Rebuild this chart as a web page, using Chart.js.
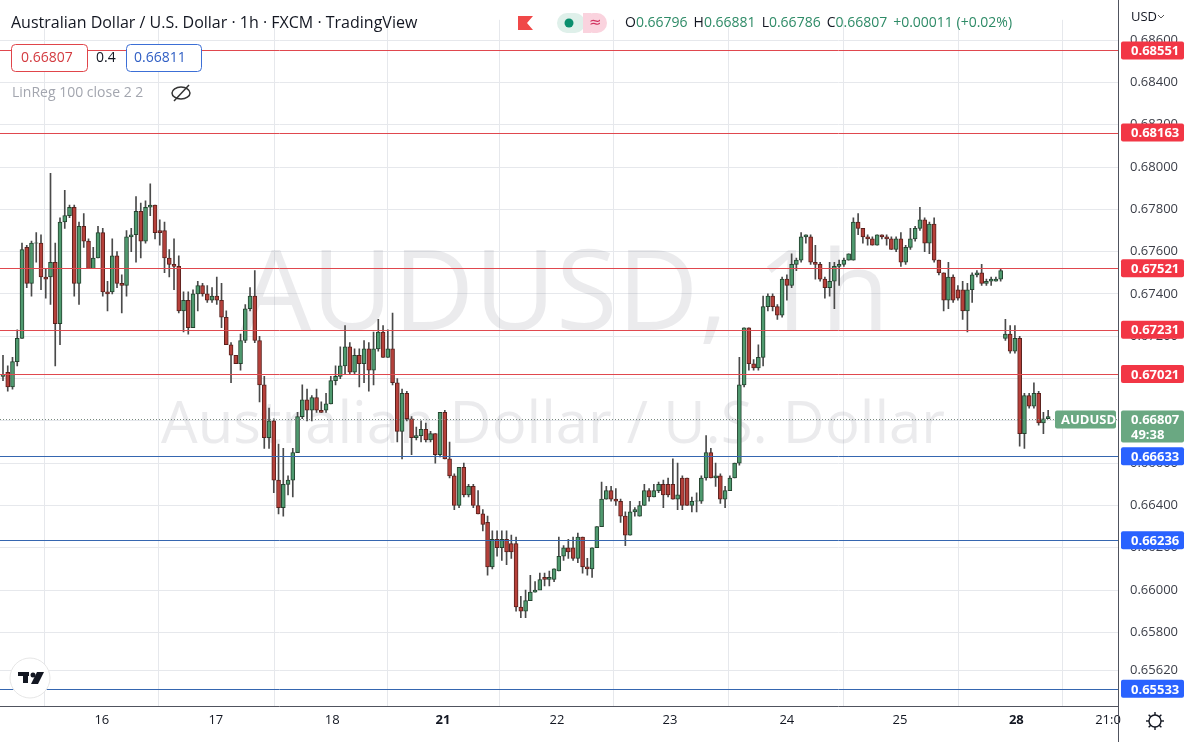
<!DOCTYPE html>
<html><head><meta charset="utf-8">
<script src="https://cdn.jsdelivr.net/npm/chart.js@4.4.0/dist/chart.umd.min.js"></script>
<style>html,body{margin:0;padding:0;background:#fff;overflow:hidden}canvas{display:block}</style>
</head><body><canvas id="c" width="1188" height="742"></canvas>
<script>
// Hourly candles (pips x 1e-4)
const opens=[6701,6703,6696,6708,6719,6762,6745,6764,6764,6748,6748,6755,6726,6774,6777,6781,6745,6772,6765,6752,6757,6769,6741,6741,6758,6745,6744,6767,6768,6779,6765,6781,6782,6770,6770,6757,6754,6753,6732,6737,6724,6740,6744,6740,6737,6739,6737,6729,6716,6711,6707,6718,6733,6739,6718,6697,6672,6680,6652,6639,6650,6652,6665,6682,6690,6685,6691,6685,6685,6688,6699,6701,6706,6715,6703,6711,6707,6714,6704,6714,6722,6710,6714,6698,6675,6693,6681,6672,6673,6676,6671,6674,6664,6684,6662,6654,6640,6658,6645,6649,6640,6636,6632,6611,6624,6620,6624,6622,6622,6592,6590,6595,6599,6600,6606,6605,6605,6609,6616,6620,6620,6615,6625,6611,6610,6620,6630,6643,6647,6643,6642,6635,6626,6637,6635,6640,6647,6644,6647,6650,6650,6650,6643,6653,6653,6640,6642,6642,6653,6665,6653,6654,6643,6647,6653,6660,6697,6724,6707,6705,6710,6734,6739,6734,6730,6747,6744,6754,6756,6767,6767,6755,6754,6747,6743,6746,6753,6754,6756,6756,6774,6771,6767,6766,6763,6768,6767,6766,6761,6766,6755,6762,6766,6771,6775,6764,6773,6756,6750,6737,6748,6742,6742,6732,6742,6749,6750,6745,6746,6746,6747,6719,6721,6713,6719,6674,6692,6687,6693,6679,6681];
const highs=[6711,6706,6710,6723,6764,6763,6765,6769,6768,6752,6797,6764,6776,6789,6782,6782,6774,6778,6766,6762,6772,6771,6746,6766,6760,6749,6770,6771,6786,6783,6784,6792,6782,6775,6774,6761,6766,6758,6741,6741,6742,6746,6745,6744,6743,6748,6745,6732,6717,6711,6721,6735,6743,6751,6720,6701,6686,6681,6669,6667,6654,6667,6684,6697,6695,6692,6695,6689,6693,6701,6706,6715,6725,6717,6714,6714,6718,6717,6722,6728,6725,6723,6731,6700,6695,6694,6682,6677,6680,6679,6675,6674,6684,6685,6670,6655,6658,6660,6650,6650,6647,6638,6635,6628,6628,6628,6628,6626,6625,6597,6600,6607,6604,6608,6608,6609,6610,6625,6621,6624,6625,6627,6625,6615,6620,6630,6651,6649,6649,6648,6643,6637,6642,6639,6642,6650,6648,6650,6651,6652,6653,6662,6660,6654,6653,6644,6646,6654,6673,6667,6660,6655,6649,6654,6660,6710,6724,6724,6709,6716,6739,6740,6740,6735,6748,6749,6759,6757,6769,6768,6768,6763,6755,6748,6755,6755,6756,6757,6759,6776,6778,6771,6768,6767,6768,6768,6768,6767,6767,6769,6763,6771,6772,6781,6776,6774,6776,6756,6750,6755,6749,6744,6746,6745,6750,6751,6754,6747,6748,6748,6752,6728,6725,6725,6720,6693,6693,6698,6694,6684,6685];
const lows=[6699,6694,6695,6706,6719,6743,6739,6755,6742,6738,6735,6706,6716,6771,6776,6739,6735,6762,6752,6752,6757,6739,6732,6740,6743,6731,6739,6760,6755,6757,6764,6777,6766,6763,6750,6748,6742,6731,6722,6721,6724,6732,6739,6736,6736,6735,6724,6716,6698,6707,6704,6717,6732,6717,6689,6667,6667,6646,6636,6635,6645,6644,6665,6681,6680,6680,6684,6684,6684,6688,6697,6700,6702,6702,6702,6696,6698,6694,6697,6713,6710,6710,6697,6670,6662,6680,6664,6671,6670,6670,6670,6660,6663,6662,6653,6638,6639,6644,6644,6639,6636,6628,6607,6610,6616,6614,6612,6615,6590,6587,6587,6595,6599,6601,6602,6602,6604,6609,6614,6615,6614,6613,6608,6607,6606,6620,6630,6643,6642,6640,6632,6621,6626,6635,6635,6640,6642,6644,6646,6639,6644,6643,6638,6638,6640,6637,6637,6641,6652,6653,6649,6641,6639,6647,6653,6659,6696,6704,6704,6704,6706,6732,6732,6728,6729,6737,6743,6751,6755,6764,6754,6747,6746,6738,6739,6733,6744,6753,6756,6756,6768,6764,6763,6763,6763,6766,6763,6761,6760,6753,6754,6761,6765,6770,6760,6759,6755,6749,6732,6733,6736,6737,6728,6722,6736,6748,6744,6744,6744,6746,6746,6718,6712,6712,6668,6667,6686,6686,6678,6674,6681];
const closes=[6702,6696,6708,6719,6761,6745,6764,6764,6748,6747,6755,6726,6774,6777,6781,6745,6772,6765,6752,6757,6769,6741,6740,6758,6745,6744,6767,6768,6779,6765,6781,6782,6769,6769,6757,6754,6753,6732,6737,6724,6740,6744,6740,6737,6739,6737,6729,6716,6711,6707,6718,6733,6739,6718,6697,6672,6680,6652,6639,6650,6652,6665,6682,6690,6685,6691,6685,6684,6688,6699,6701,6706,6715,6703,6711,6707,6714,6704,6714,6722,6710,6714,6698,6675,6693,6681,6672,6673,6676,6671,6674,6664,6684,6662,6654,6640,6658,6645,6649,6640,6636,6631,6611,6624,6620,6624,6618,6618,6592,6590,6595,6599,6600,6605,6605,6606,6610,6616,6620,6618,6615,6625,6611,6610,6620,6630,6643,6647,6643,6642,6635,6626,6637,6638,6640,6647,6644,6647,6650,6645,6645,6643,6645,6640,6640,6642,6642,6653,6665,6653,6654,6643,6647,6653,6660,6697,6724,6707,6705,6710,6734,6739,6734,6730,6747,6744,6754,6756,6767,6768,6755,6754,6747,6743,6746,6753,6754,6756,6759,6774,6771,6767,6766,6763,6768,6767,6766,6761,6766,6755,6762,6766,6771,6775,6764,6773,6756,6750,6737,6748,6737,6738,6732,6742,6749,6750,6745,6746,6747,6747,6751,6721,6713,6719,6674,6692,6687,6693,6679,6681,6682];
const dayTickPos=[20.8,44.8,69.3,92.6,116.6,140.4,165,188.8,213.3,232.6];
const dayTickLabels=['16','17','18','21','22','23','24','25','28','21:0'];
const boldDays=['21','28'];
const yTicks=[0.6562,0.658,0.660,0.662,0.664,0.666,0.668,0.670,0.672,0.674,0.676,0.678,0.680,0.682,0.684,0.686];
const resistance=[0.68551,0.68163,0.67521,0.67231,0.67021];
const support=[0.66633,0.66236,0.65533];
const lastPrice=0.66807;

const P=v=>v/10000;
const body=opens.map((o,i)=>({x:i,y:[P(o),closes[i]===o?P(o)+0.000015:P(closes[i])]}));
const wick=opens.map((o,i)=>({x:i,y:[P(lows[i]),P(highs[i])]}));
const up=opens.map((o,i)=>closes[i]>=o);
const UPF='#4f9a6f',UPB='#24432f',DNF='#b5403a',DNB='#5b211d';

const overlay={id:'overlay',
 beforeDatasetsDraw(ch){
  const c=ch.ctx;
  c.save();
  c.fillStyle='rgba(120,123,134,0.15)';
  c.textAlign='center';c.textBaseline='middle';
  c.font='112px "Open Sans", "Noto Sans", sans-serif';
  c.fillText('AUDUSD, 1h',565,298);
  c.font='58px "Open Sans", "Noto Sans", sans-serif';
  c.fillText('Australian Dollar / U.S. Dollar',553,426);
  c.restore();
 },
 afterDatasetsDraw(ch){
  const c=ch.ctx,y=ch.scales.y,a=ch.chartArea;
  c.save();
  const line=(v,col)=>{const py=Math.round(y.getPixelForValue(v))+0.5;c.strokeStyle=col;c.lineWidth=1;c.beginPath();c.moveTo(0,py);c.lineTo(a.right,py);c.stroke();};
  resistance.forEach(v=>line(v,'#e0484e'));
  support.forEach(v=>line(v,'#3566b0'));
  const py=Math.round(y.getPixelForValue(lastPrice))+0.5;
  c.setLineDash([1,2]);c.strokeStyle='#7a8a80';c.beginPath();c.moveTo(0,py);c.lineTo(a.right,py);c.stroke();c.setLineDash([]);
  const badge=(v,col)=>{const p=y.getPixelForValue(v);c.fillStyle=col;c.beginPath();c.roundRect(a.right+3,p-9,63,18,2);c.fill();
   c.fillStyle='#fff';c.font='bold 13px "Open Sans", sans-serif';c.textAlign='left';c.textBaseline='middle';c.fillText(v.toFixed(5),a.right+13,p+1);};
  resistance.forEach(v=>badge(v,'#f23645'));
  support.forEach(v=>badge(v,'#2962ff'));
  c.fillStyle='#6aa882';c.beginPath();c.roundRect(a.right+3,py-9,63,32,2);c.fill();
  c.fillStyle='#fff';c.font='bold 13px "Open Sans", sans-serif';c.textAlign='left';c.textBaseline='middle';
  c.fillText('0.66807',a.right+13,py+1);c.fillText('49:38',a.right+13,py+16);
  c.fillStyle='#6aa882';c.beginPath();c.roundRect(1055,py-9,61,18,2);c.fill();
  c.fillStyle='#fff';c.fillText('AUDUSD',1061,py+1);
  c.fillStyle='#131722';c.font='16px "Open Sans", sans-serif';c.textBaseline='middle';
  c.fillText('Australian Dollar / U.S. Dollar · 1h · FXCM · TradingView',11,23);
  c.fillStyle='#f04848';c.beginPath();c.moveTo(518,16);c.lineTo(533,16);c.lineTo(527,23);c.lineTo(533,30);c.lineTo(518,30);c.fill();
  c.fillStyle='#dff0ea';c.beginPath();c.roundRect(557,13,28,20,10);c.fill();
  c.fillStyle='#fad3de';c.beginPath();c.roundRect(583,13,24,20,10);c.fill();c.fillRect(583,13,8,20);
  c.fillStyle='#0b8f6e';c.beginPath();c.arc(569,23,4.5,0,Math.PI*2);c.fill();
  c.fillStyle='#d2325f';c.font='15px "DejaVu Sans", sans-serif';c.fillText('≈',589,23);
  let x=625;c.font='14px "Open Sans", sans-serif';
  [['O','0.66796'],['H','0.66881'],['L','0.66786'],['C','0.66807'],['','+0.00011 (+0.02%)']].forEach(([k,v])=>{
   c.fillStyle='#131722';c.fillText(k,x,23);x+=c.measureText(k).width;c.fillStyle='#2e8b67';c.fillText(v,x,23);x+=c.measureText(v).width+6;});
  c.fillStyle='#fff';c.strokeStyle='#e0454a';c.lineWidth=1;c.beginPath();c.roundRect(11.5,44.5,76,27,4);c.fill();c.stroke();
  c.fillStyle='#d33b40';c.font='14px "Open Sans", sans-serif';c.fillText('0.66807',21,58);
  c.fillStyle='#131722';c.fillText('0.4',96,58);
  c.fillStyle='#fff';c.strokeStyle='#3c6fd6';c.beginPath();c.roundRect(126.5,44.5,75,27,4);c.fill();c.stroke();
  c.fillStyle='#2f5ec4';c.fillText('0.66811',134,58);
  c.fillStyle='#a3a6af';c.fillText('LinReg 100 close 2 2',12,93);
  c.strokeStyle='#333';c.lineWidth=1.5;c.beginPath();c.ellipse(181,93,9,6,0,0,Math.PI*2);c.stroke();
  c.beginPath();c.moveTo(174,101);c.lineTo(189,85);c.stroke();
  c.fillStyle='#fff';c.strokeStyle='#e6e6e6';c.lineWidth=1;c.beginPath();c.arc(30,678,20,0,Math.PI*2);c.fill();c.stroke();
  c.fillStyle='#131722';c.fillRect(18,672,11,4);c.fillRect(23,672,5,11);c.beginPath();c.arc(33,675,2.5,0,Math.PI*2);c.fill();
  c.beginPath();c.moveTo(37,672);c.lineTo(44,672);c.lineTo(38,684);c.lineTo(31,684);c.fill();
  c.strokeStyle='#131722';c.lineWidth=1.4;c.beginPath();c.arc(1155,721,6,0,Math.PI*2);c.stroke();
  for(let k=0;k<8;k++){const t=k*Math.PI/4;c.beginPath();c.moveTo(1155+6*Math.cos(t),721+6*Math.sin(t));c.lineTo(1155+9*Math.cos(t),721+9*Math.sin(t));c.stroke();}
  c.fillStyle='#131722';c.font='13px "Open Sans", sans-serif';c.textAlign='left';c.fillText('USD',1131,17);
  c.strokeStyle='#555';c.lineWidth=1;c.beginPath();c.moveTo(1158,15);c.lineTo(1161,18);c.lineTo(1164,15);c.stroke();
  c.strokeStyle='#50535e';c.lineWidth=1;c.beginPath();c.moveTo(a.right+0.5,0);c.lineTo(a.right+0.5,742);c.stroke();
  c.beginPath();c.moveTo(0,a.bottom+0.5);c.lineTo(a.right,a.bottom+0.5);c.stroke();
  c.restore();
 }};

new Chart(document.getElementById('c'),{
 type:'bar',
 data:{datasets:[
  {data:wick,backgroundColor:'#4a4a4a',barThickness:1,grouped:false,order:2},
  {data:body,backgroundColor:up.map(u=>u?UPF:DNF),borderColor:up.map(u=>u?UPB:DNB),borderWidth:1,borderSkipped:false,barThickness:4,grouped:false,order:1}
 ]},
 options:{responsive:false,animation:false,devicePixelRatio:1,
  layout:{padding:{top:4,left:0,right:0,bottom:0}},
  plugins:{legend:{display:false},tooltip:{enabled:false}},
  scales:{
   x:{type:'linear',min:-0.63,max:234.7,offset:false,
    afterBuildTicks:s=>{s.ticks=dayTickPos.map(v=>({value:v}));},
    afterFit:s=>{s.height=36;},
    ticks:{autoSkip:false,maxRotation:0,color:'#131722',padding:6,
     font:c=>({size:13,family:'"Open Sans", sans-serif',weight:boldDays.includes(dayTickLabels[c.index])?'bold':'normal'}),
     callback:(v,i)=>dayTickLabels[i]},
    grid:{color:'#e6e8ec',drawTicks:false},border:{display:false}},
   y:{position:'right',min:0.65452,max:0.68696,
    afterBuildTicks:s=>{s.ticks=yTicks.map(v=>({value:v}));},
    afterFit:s=>{s.width=70;},
    ticks:{color:'#3b3e48',padding:12,font:{size:13,family:'"Open Sans", sans-serif'},callback:v=>v.toFixed(5)},
    grid:{color:'#e6e8ec',drawTicks:false},border:{display:false}}
  }},
 plugins:[overlay]
});
</script></body></html>
